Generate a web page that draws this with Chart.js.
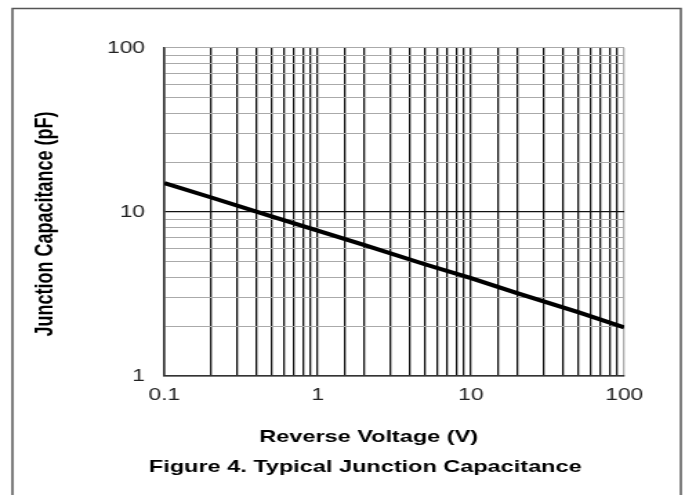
<!DOCTYPE html>
<html>
<head>
<meta charset="utf-8">
<script src="https://cdn.jsdelivr.net/npm/chart.js@4.4.1/dist/chart.umd.min.js"></script>
<style>
  html, body { margin: 0; padding: 0; background: #fff; overflow: hidden; }
  /* the reference figure is stretched sideways, so draw narrow and widen */
  #wrap { width: 496px; height: 495px; transform: scaleX(1.381); transform-origin: 0 0; }
</style>
</head>
<body>
<div id="wrap"><canvas id="myChart" width="496" height="495"></canvas></div>
<script>
// reverse voltage (V) and junction capacitance (pF)
var voltage = [0.1, 0.2, 0.5, 1, 2, 5, 10, 20, 50, 100];
var capacitance = [15, 12.3, 9.4, 7.7, 6.3, 4.8, 3.95, 3.2, 2.45, 1.98];

var xLabels = [0.1, 1, 10, 100];
var yLabels = [1, 10, 100];

var xTitle = 'Reverse Voltage (V)';
var yTitle = 'Junction Capacitance (pF)';
var figTitle = 'Figure 4. Typical Junction Capacitance';

function isDecade(v) {
  var l = Math.log10(v);
  return Math.abs(l - Math.round(l)) < 1e-9;
}

// frame and captions
const figText = {
  id: 'figText',
  beforeDraw: function(chart) {
    const c = chart.ctx;
    c.save();
    c.strokeStyle = '#555';
    c.lineWidth = 1.5;
    c.strokeRect(9, 8.5, 484, 520);
    c.restore();
  },
  afterDraw: function(chart) {
    const c = chart.ctx;
    c.save();
    c.fillStyle = '#000';
    c.textAlign = 'center';
    c.textBaseline = 'middle';
    c.font = 'bold 17px "Liberation Sans", Arial, sans-serif';
    c.fillText(xTitle, 267, 437);
    c.fillText(figTitle, 264.5, 467);
    c.translate(32.6, 224);
    c.rotate(-Math.PI / 2);
    c.font = 'bold 18px "Liberation Sans", Arial, sans-serif';
    c.fillText(yTitle, 0, 0);
    c.restore();
  }
};

const ctx = document.getElementById('myChart').getContext('2d');

const config = {
  type: 'line',
  data: {
    datasets: [{
      data: voltage.map(function(v, i) { return { x: v, y: capacitance[i] }; }),
      borderColor: '#000',
      borderWidth: 4,
      pointRadius: 0,
      tension: 0,
      fill: false
    }]
  },
  options: {
    responsive: false,
    animation: false,
    layout: { padding: { top: 48, left: 0, right: 44, bottom: 79 } },
    plugins: { legend: { display: false }, tooltip: { enabled: false } },
    scales: {
      x: {
        type: 'logarithmic',
        min: 0.1,
        max: 100,
        afterFit: function(s) { s.height = 40; },
        border: { color: '#333', width: 1.5 },
        grid: {
          drawTicks: false,
          color: function(c) { return c.tick && c.tick.value === 100 ? '#aaa' : '#111'; },
          lineWidth: 1.3
        },
        ticks: {
          autoSkip: false,
          maxRotation: 0,
          padding: 10,
          color: '#222',
          font: { family: '"Liberation Sans", Arial, sans-serif', size: 16.5 },
          callback: function(value) {
            return xLabels.indexOf(Number(value)) >= 0 || isDecade(value) ? String(value) : '';
          }
        }
      },
      y: {
        type: 'logarithmic',
        min: 1,
        max: 100,
        afterFit: function(s) { s.width = 119; },
        border: { color: '#333', width: 1.5 },
        grid: {
          drawTicks: false,
          color: function(c) {
            if (!c.tick) return '#aaa';
            var v = c.tick.value;
            return (isDecade(v) && v < 100) ? '#111' : '#aaa';
          },
          lineWidth: function(c) { return c.tick && isDecade(c.tick.value) && c.tick.value < 100 ? 1.3 : 1.1; }
        },
        ticks: {
          autoSkip: false,
          padding: 14,
          color: '#222',
          font: { family: '"Liberation Sans", Arial, sans-serif', size: 16.5 },
          callback: function(value) {
            return yLabels.indexOf(Number(value)) >= 0 || isDecade(value) ? String(value) : '';
          }
        }
      }
    }
  },
  plugins: [figText]
};

const chart = new Chart(ctx, config);
</script>
</body>
</html>
